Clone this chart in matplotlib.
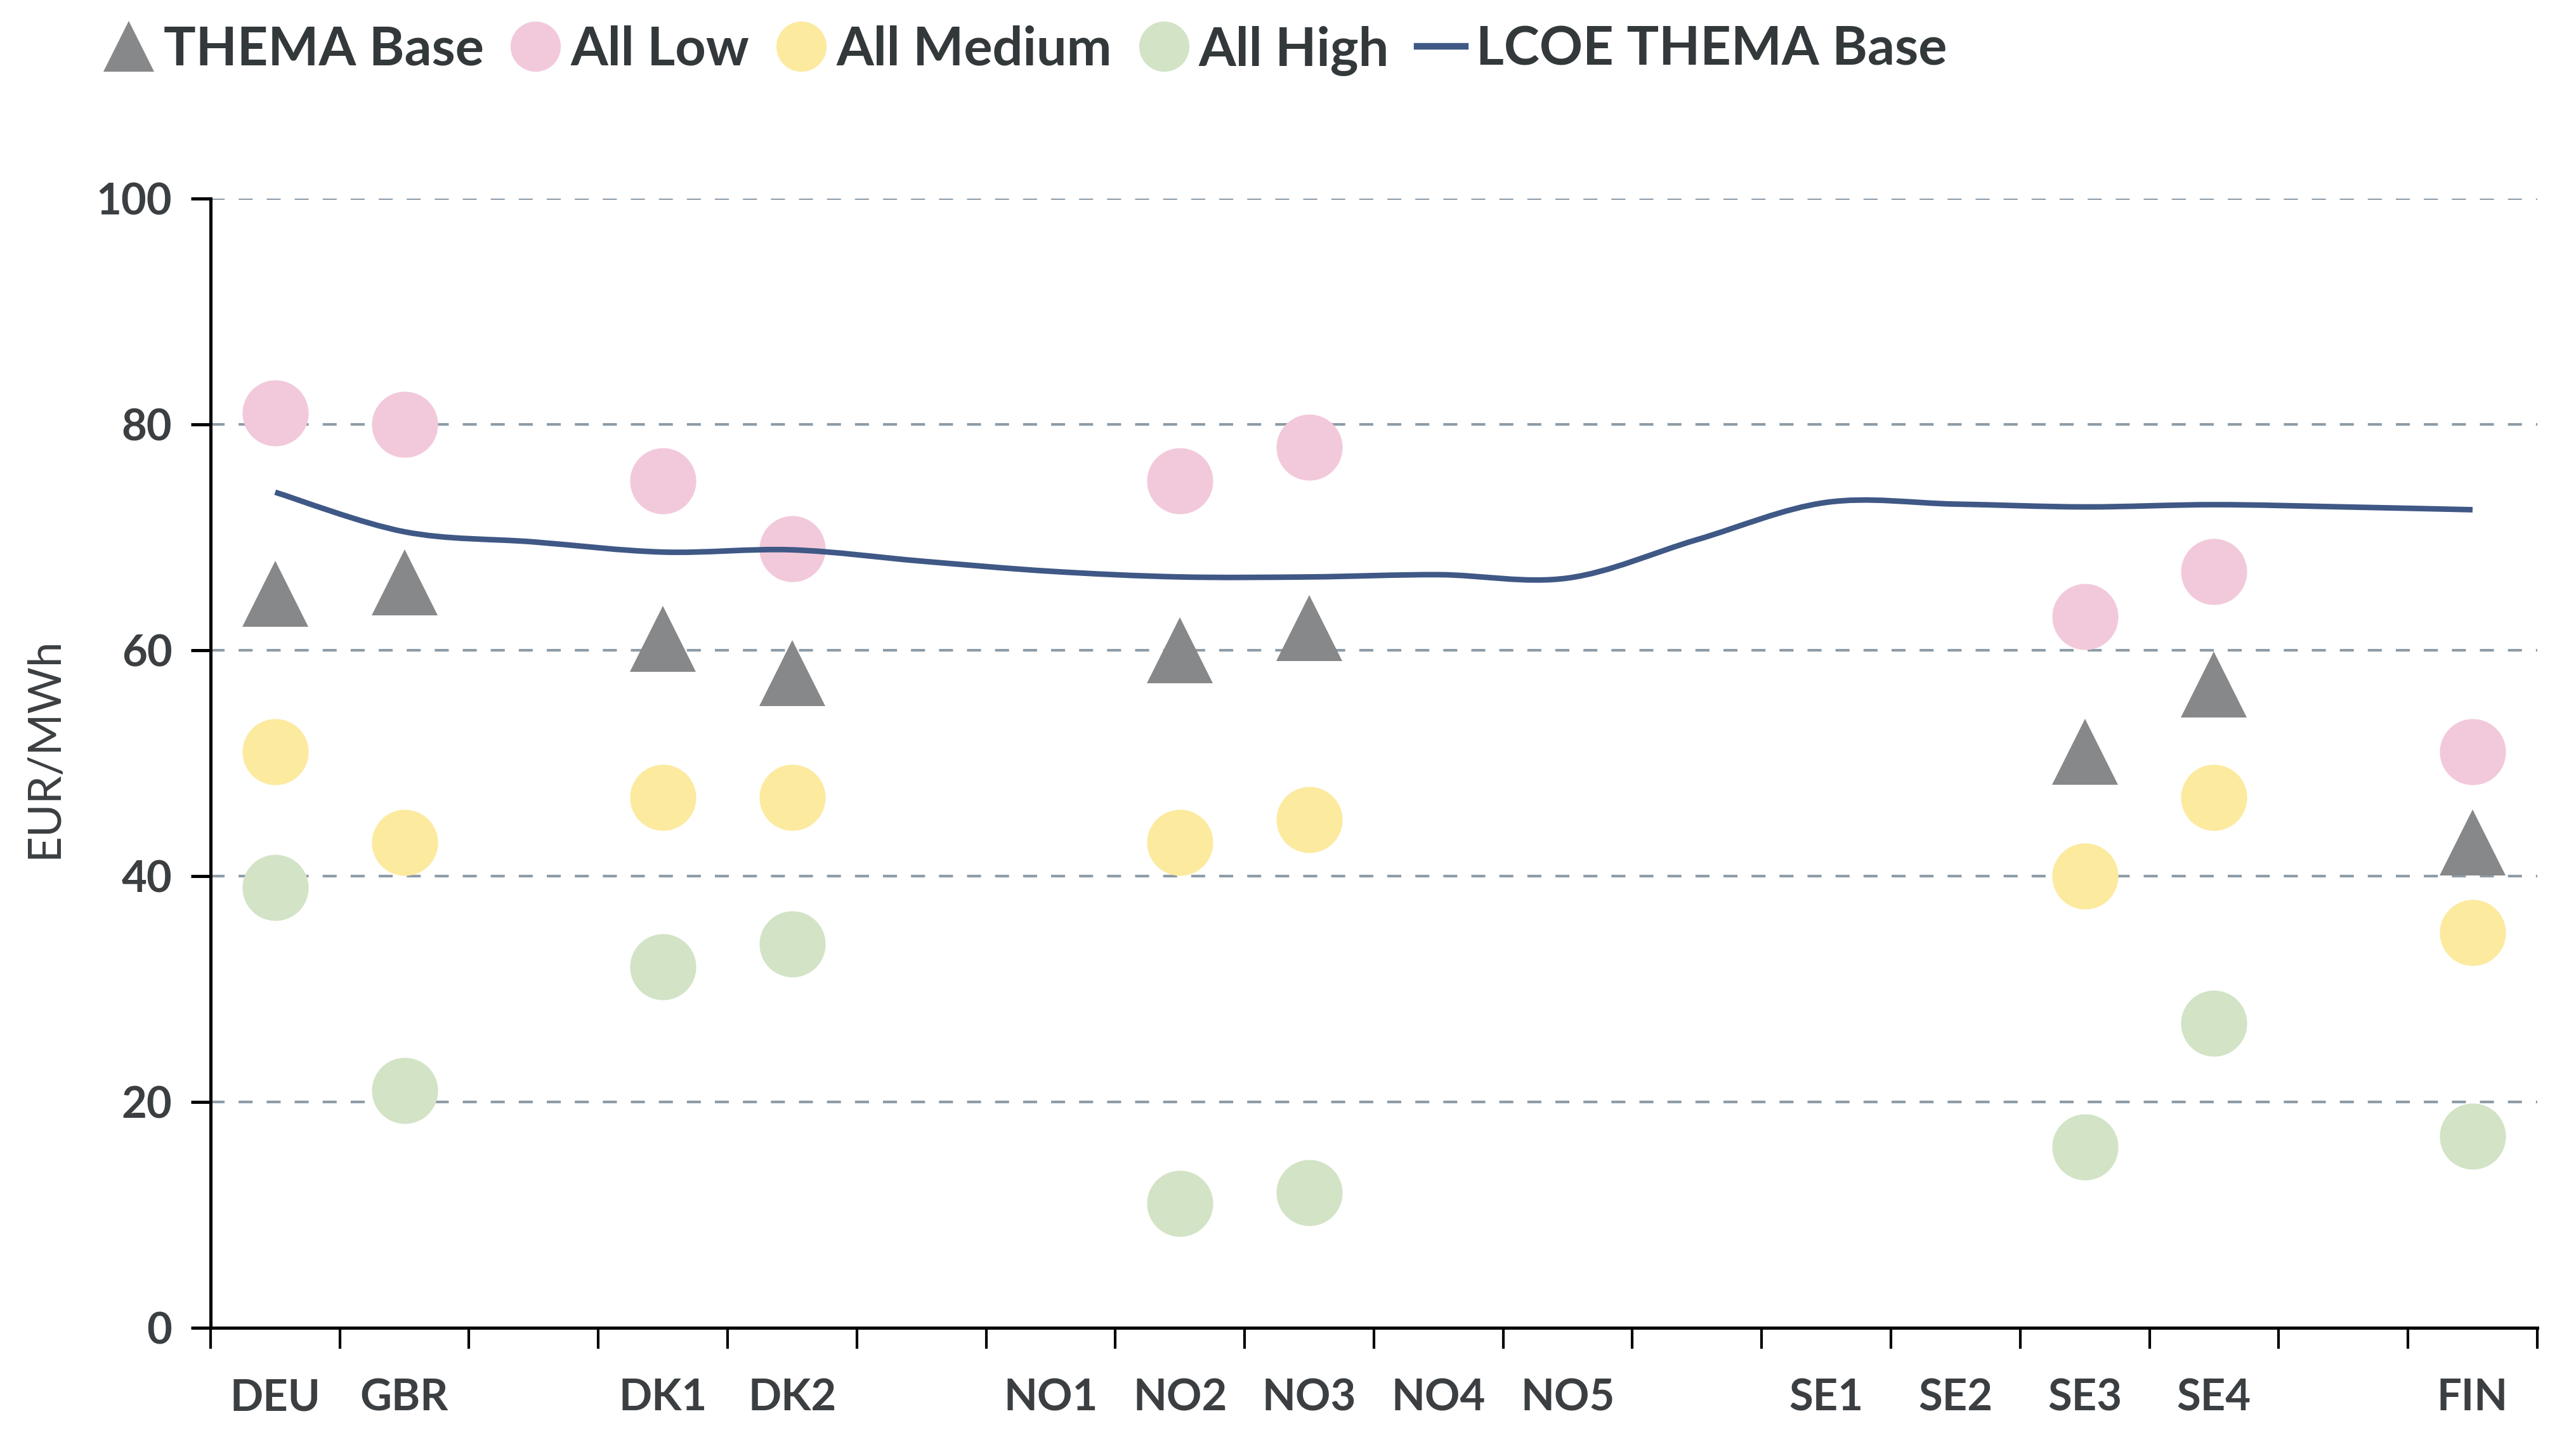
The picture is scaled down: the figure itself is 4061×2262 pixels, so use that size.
import numpy as np
import matplotlib
matplotlib.use("Agg")
import matplotlib.pyplot as plt
from matplotlib.path import Path
from matplotlib.patches import PathPatch
from matplotlib.lines import Line2D

# ---------------- data ----------------
categories = ["DEU", "GBR", "", "DK1", "DK2", "", "NO1", "NO2", "NO3", "NO4",
              "NO5", "", "SE1", "SE2", "SE3", "SE4", "", "FIN"]
nan = np.nan
thema_base = [65, 66, nan, 61, 58, nan, nan, 60, 62, nan, nan, nan, nan, nan, 51, 57, nan, 43]
all_low = [81, 80, nan, 75, 69, nan, nan, 75, 78, nan, nan, nan, nan, nan, 63, 67, nan, 51]
all_medium = [51, 43, nan, 47, 47, nan, nan, 43, 45, nan, nan, nan, nan, nan, 40, 47, nan, 35]
all_high = [39, 21, nan, 32, 34, nan, nan, 11, 12, nan, nan, nan, nan, nan, 16, 27, nan, 17]
lcoe_thema_base = [74.0, 70.5, 69.6, 68.7, 68.9, 67.9, 67.0, 66.5, 66.5, 66.7,
                   66.4, 69.8, 73.1, 72.95, 72.7, 72.9, 72.7, 72.45]
y_ticks = [0, 20, 40, 60, 80, 100]

# ---------------- style ----------------
TXT = "#3b3f42"
C_BASE = "#87888a"
C_LOW = "#f2c9db"
C_MED = "#fcea9f"
C_HIGH = "#d3e3c6"
C_LINE = "#3f5885"
C_GRID = "#8e9ca6"
FONT = "Lato"

fig = plt.figure(figsize=(13.54, 7.54), dpi=300)
ax = fig.add_axes([0.0817, 0.0746, 0.9030, 0.7870])

x = np.arange(len(categories))
MS = 25  # points

ax.plot(x, all_low, ls="", marker="o", ms=MS, color=C_LOW, mec="none", zorder=3)
ax.plot(x, all_medium, ls="", marker="o", ms=MS, color=C_MED, mec="none", zorder=3)
ax.plot(x, all_high, ls="", marker="o", ms=MS, color=C_HIGH, mec="none", zorder=3)
ax.plot(x, thema_base, ls="", marker="^", ms=MS, color=C_BASE, mec="none", zorder=3)

# smooth (Catmull-Rom as cubic Bezier) line through the LCOE values
yl = np.asarray(lcoe_thema_base, dtype=float)
pts = np.column_stack([x.astype(float), yl])
n = len(pts)
verts = [tuple(pts[0])]
codes = [Path.MOVETO]
for i in range(n - 1):
    p0 = pts[i - 1] if i > 0 else pts[i]
    p1 = pts[i]
    p2 = pts[i + 1]
    p3 = pts[i + 2] if i + 2 < n else pts[i + 1]
    c1 = p1 + (p2 - p0) / 6.0
    c2 = p2 - (p3 - p1) / 6.0
    verts += [tuple(c1), tuple(c2), tuple(p2)]
    codes += [Path.CURVE4] * 3
ax.add_patch(PathPatch(Path(verts, codes), facecolor="none", edgecolor=C_LINE,
                       lw=2.1, capstyle="butt", zorder=4))

# axes
ax.set_xlim(-0.5, len(categories) - 0.5)
ax.set_ylim(0, 100)
ax.set_yticks(y_ticks)
ax.set_xticks(x)
ax.set_xticklabels(categories)
ax.set_xticks(np.arange(-0.5, len(categories), 1.0), minor=True)

for s in ["top", "right"]:
    ax.spines[s].set_visible(False)
for s in ["left", "bottom"]:
    ax.spines[s].set_linewidth(1.2)
    ax.spines[s].set_color("black")

ax.tick_params(axis="x", which="major", length=0, pad=19)
ax.tick_params(axis="x", which="minor", length=8, width=1.0, color="black")
ax.tick_params(axis="y", which="major", length=7.5, width=1.2, color="black", pad=7)

for lab in ax.get_xticklabels() + ax.get_yticklabels():
    lab.set_fontfamily(FONT)
    lab.set_fontweight("bold")
    lab.set_fontsize(16.5)
    lab.set_color(TXT)

ax.set_axisbelow(True)
for v in y_ticks[1:]:
    ax.axhline(v, color=C_GRID, lw=1.0, ls=(0, (5.3, 5.3)), zorder=1)

fig.text(0.0172, 0.479, "EUR/MWh", rotation=90, ha="center", va="center",
         fontfamily=FONT, fontsize=17, color=TXT)

# legend
LMS = 19
handles = [
    Line2D([], [], ls="", marker="^", ms=LMS, color=C_BASE, mec="none"),
    Line2D([], [], ls="", marker="o", ms=LMS, color=C_LOW, mec="none"),
    Line2D([], [], ls="", marker="o", ms=LMS, color=C_MED, mec="none"),
    Line2D([], [], ls="", marker="o", ms=LMS, color=C_HIGH, mec="none"),
    Line2D([], [], color=C_LINE, lw=2.5),
]
labels = ["THEMA Base", "All Low", "All Medium", "All High", "LCOE THEMA Base"]
leg = fig.legend(handles, labels, loc="center left", bbox_to_anchor=(0.0405, 0.965),
                 ncol=5, frameon=False, handlelength=0.9, handletextpad=0.2,
                 columnspacing=0.52, borderaxespad=0, borderpad=0,
                 prop={"family": FONT, "weight": "bold", "size": 20.3})
for t in leg.get_texts():
    t.set_color("#33383b")

fig.savefig("out.png", dpi=300, facecolor="white")
